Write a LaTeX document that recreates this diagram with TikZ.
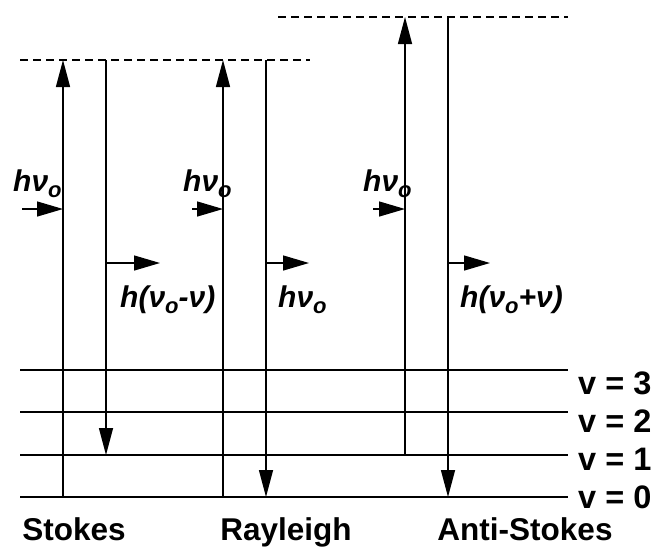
\documentclass[tikz,border=0pt]{standalone}
\usepackage{fontspec}
\setmainfont{Liberation Sans}
\usetikzlibrary{arrows.meta}
% lowered subscript "o" of the laser frequency
\newcommand\subo{\raisebox{-6pt}{\fontsize{22}{22}\selectfont o}}
\tikzset{
  level/.style={line width=1.4pt},
  virtual/.style={line width=1.3pt, dash pattern=on 8pt off 5pt},
  transition/.style={line width=1.4pt},
  headup/.style={-{Triangle[length=27pt,width=14pt]}},
  photon/.style={line width=1.4pt, -{Triangle[length=26pt,width=15pt]}},
  energy/.style={inner sep=0pt, anchor=base west, font=\fontsize{30}{30}\selectfont\bfseries\itshape},
  kind/.style={inner sep=0pt, anchor=base, font=\fontsize{31.5}{31.5}\selectfont\bfseries},
  vlabel/.style={inner sep=0pt, anchor=base west, font=\fontsize{32.5}{32.5}\selectfont\bfseries},
}
\begin{document}
\begin{tikzpicture}[x=1pt,y=-1pt]
\useasboundingbox (0,0) rectangle (660,547);

% vibrational levels v = 0 .. 3
\foreach \n/\y/\b in {3/370/394, 2/412/432, 1/455/470, 0/497/508} {
  \coordinate (L\n w) at (20,\y);
  \coordinate (L\n e) at (568,\y);
  \draw[level] (L\n w) -- (L\n e);
  \node[vlabel] (lab\n) at (578,\b) {v = \n};
}

% virtual levels
\coordinate (V1w) at (20,60);   \coordinate (V1e) at (310,60);
\coordinate (V2w) at (278,17);  \coordinate (V2e) at (568,17);
\draw[virtual] (V1w) -- (V1e);
\draw[virtual] (V2w) -- (V2e);

% Stokes
\coordinate (s1b) at (63,497);  \coordinate (s1t) at (63,60);
\coordinate (s2t) at (106,60);  \coordinate (s2b) at (106,455);
\draw[transition,headup] (s1b) -- (s1t);
\draw[transition,headup] (s2t) -- (s2b);

% Rayleigh
\coordinate (r1b) at (223,497); \coordinate (r1t) at (223,60);
\coordinate (r2t) at (266,60);  \coordinate (r2b) at (266,497);
\draw[transition,headup] (r1b) -- (r1t);
\draw[transition,headup] (r2t) -- (r2b);

% Anti-Stokes
\coordinate (a1b) at (405,455); \coordinate (a1t) at (405,17);
\coordinate (a2t) at (448,17);  \coordinate (a2b) at (448,497);
\draw[transition,headup] (a1b) -- (a1t);
\draw[transition,headup] (a2t) -- (a2b);

% incident and scattered photons
\coordinate (si) at (22,209);   \coordinate (sin) at (63,209);
\coordinate (so) at (106,263);  \coordinate (sout) at (160,263);
\coordinate (ri) at (192,209);  \coordinate (rin) at (223,209);
\coordinate (ro) at (266,263);  \coordinate (rout) at (309,263);
\coordinate (ai) at (373,209);  \coordinate (ain) at (405,209);
\coordinate (ao) at (448,263);  \coordinate (aout) at (490,263);
\draw[photon] (si) -- (sin);
\draw[photon] (so) -- (sout);
\draw[photon] (ri) -- (rin);
\draw[photon] (ro) -- (rout);
\draw[photon] (ai) -- (ain);
\draw[photon] (ao) -- (aout);

% photon energies
\node[energy] (e1) at (13,191)  {hν\subo};
\node[energy] (e2) at (120,307) {h(ν\subo-ν)};
\node[energy] (e3) at (183,191) {hν\subo};
\node[energy] (e4) at (278,307) {hν\subo};
\node[energy] (e5) at (363,191) {hν\subo};
\node[energy] (e6) at (460,307) {h(ν\subo+ν)};

% process names
\node[kind] (k1) at (74,540)  {Stokes};
\node[kind] (k2) at (286,540) {Rayleigh};
\node[kind] (k3) at (525,540) {Anti-Stokes};
\end{tikzpicture}
\end{document}
